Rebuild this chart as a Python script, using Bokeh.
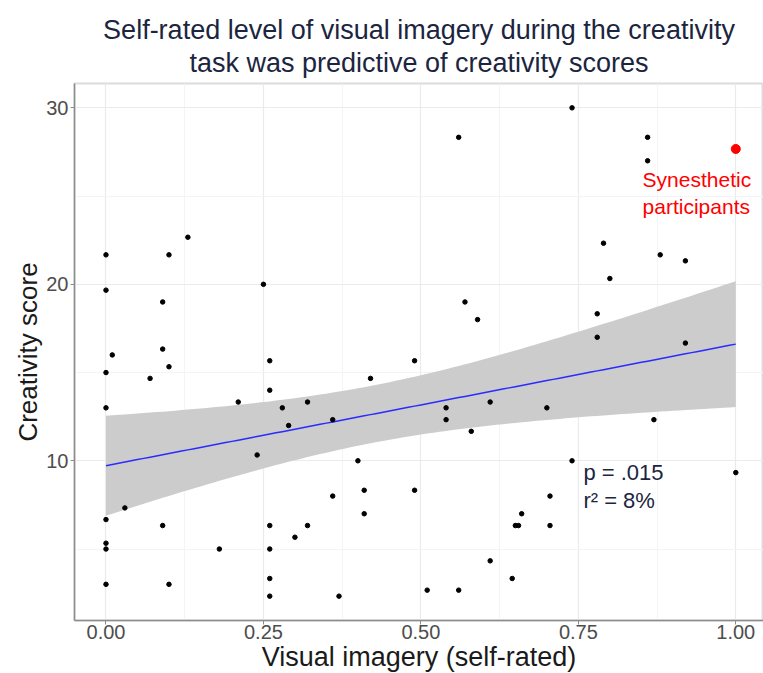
import numpy as np
from bokeh.plotting import figure
from bokeh.models import FixedTicker, Label, Range1d, ColumnDataSource, Title, LinearAxis
from bokeh.embed import file_html
from bokeh.resources import INLINE

# ---- data ----
imagery = [0.00, 0.00, 0.01, 0.00, 0.00, 0.00, 0.00, 0.00, 0.00, 0.03,
           0.07, 0.09, 0.09, 0.09, 0.10, 0.10, 0.10, 0.13, 0.18, 0.21,
           0.24, 0.25, 0.26, 0.26, 0.26, 0.26, 0.26, 0.26, 0.28, 0.29,
           0.30, 0.32, 0.32, 0.36, 0.36, 0.37, 0.40, 0.41, 0.41, 0.42,
           0.49, 0.49, 0.51, 0.54, 0.54, 0.56, 0.56, 0.57, 0.58, 0.59,
           0.61, 0.61, 0.645, 0.65, 0.655, 0.66, 0.70, 0.705, 0.705, 0.74,
           0.74, 0.78, 0.78, 0.79, 0.80, 0.86, 0.86, 0.87, 0.88, 0.92,
           0.92, 1.00]
creativity = [21.67, 19.67, 16.0, 15.0, 13.0, 6.67, 5.33, 5.0, 3.0, 7.33,
              14.67, 19.0, 16.33, 6.33, 21.67, 15.33, 3.0, 22.67, 5.0, 13.33,
              10.33, 20.0, 15.67, 14.0, 6.33, 5.0, 3.33, 2.33, 13.0, 12.0,
              5.67, 13.33, 6.33, 12.33, 8.0, 2.33, 10.0, 8.33, 7.0, 14.67,
              15.67, 8.33, 2.67, 13.0, 12.33, 28.33, 2.67, 19.0, 11.67, 18.0,
              13.33, 4.33, 3.33, 6.33, 6.33, 7.0, 13.0, 8.0, 6.33, 30.0,
              10.0, 17.0, 18.33, 22.33, 20.33, 27.0, 28.33, 12.33, 21.67, 21.33,
              16.67, 9.33]
synesthetic_x = [1.00]
synesthetic_y = [27.67]

x_ticks = [0.0, 0.25, 0.5, 0.75, 1.0]
x_tick_labels = {0.0: "0.00", 0.25: "0.25", 0.5: "0.50", 0.75: "0.75", 1.0: "1.00"}
y_ticks = [10, 20, 30]

title_line1 = "Self-rated level of visual imagery during the creativity"
title_line2 = "task was predictive of creativity scores"

# ---- linear fit with 95% confidence band over all participants ----
xa = np.array(imagery + synesthetic_x, dtype=float)
ya = np.array(creativity + synesthetic_y, dtype=float)
n = len(xa)
xbar = xa.mean()
sxx = ((xa - xbar) ** 2).sum()
slope = ((xa - xbar) * (ya - ya.mean())).sum() / sxx
intercept = ya.mean() - slope * xbar
resid = ya - (intercept + slope * xa)
s = np.sqrt((resid ** 2).sum() / (n - 2))
t_crit = 1.994
xs = np.linspace(0, 1, 101)
fit = intercept + slope * xs
half = t_crit * s * np.sqrt(1.0 / n + (xs - xbar) ** 2 / sxx)
band = ColumnDataSource(dict(x=xs, lower=fit - half, upper=fit + half, fit=fit))

FONT = "Liberation Sans"
NAVY = "#1c2540"

# ---- figure ----
p = figure(width=763, height=673, frame_width=689, frame_height=537,
           x_range=Range1d(-0.05, 1.044), y_range=Range1d(0.95, 31.38),
           output_backend="svg", toolbar_location=None, title=None,
           min_border_left=74, min_border_right=0, min_border_top=83,
           min_border_bottom=53)

bottom_axis = p.below[0]
left_axis = p.left[0]

# second title line: label of a bare axis above the frame
top_axis = LinearAxis(ticker=FixedTicker(ticks=[]), axis_label=title_line2,
                      axis_line_color=None, major_tick_line_color=None,
                      minor_tick_line_color=None, major_tick_out=0, major_tick_in=0,
                      major_label_standoff=0, axis_label_standoff=6,
                      axis_label_text_font=FONT, axis_label_text_font_size="27px",
                      axis_label_text_font_style="normal", axis_label_text_color=NAVY)
p.add_layout(top_axis, "above")
p.add_layout(Title(text=title_line1, align="center", text_font=FONT,
                   text_font_size="27px", text_font_style="normal",
                   text_color=NAVY, offset=12, standoff=0), "above")

p.background_fill_color = "white"
p.border_fill_color = "white"
p.outline_line_color = "#dcdcdc"
p.outline_line_width = 2

bottom_axis.ticker = FixedTicker(ticks=x_ticks, minor_ticks=[0.125, 0.375, 0.625, 0.875])
bottom_axis.major_label_overrides = x_tick_labels
left_axis.ticker = FixedTicker(ticks=y_ticks, minor_ticks=[5, 15, 25])

for ax in (bottom_axis, left_axis):
    ax.axis_line_color = "#8c8c8c"
    ax.axis_line_width = 1.5
    ax.major_tick_line_color = "#8c8c8c"
    ax.major_tick_in = 0
    ax.major_tick_out = 4
    ax.minor_tick_line_color = None
    ax.major_label_text_font = FONT
    ax.major_label_text_font_size = "20px"
    ax.major_label_text_color = "#4d4d4d"
    ax.major_label_standoff = 2
    ax.axis_label_text_font = FONT
    ax.axis_label_text_font_size = "26px"
    ax.axis_label_text_font_style = "normal"
    ax.axis_label_text_color = "#1a1a1a"
    ax.axis_label_standoff = 0

left_axis.axis_label = "Creativity score"
bottom_axis.axis_label = "Visual imagery (self-rated)"
bottom_axis.axis_label_text_font_size = "27px"
bottom_axis.major_label_standoff = 0
bottom_axis.axis_label_standoff = 0

p.xgrid.grid_line_color = "#ebebeb"
p.ygrid.grid_line_color = "#ebebeb"
p.xgrid.minor_grid_line_color = "#f4f4f4"
p.ygrid.minor_grid_line_color = "#f4f4f4"
p.xgrid.grid_line_width = 1.2
p.ygrid.grid_line_width = 1.2

p.varea(x="x", y1="lower", y2="upper", source=band, fill_color="#cccccc")
p.line(x="x", y="fit", source=band, line_color="#2b2bff", line_width=1.5)

p.scatter(imagery, creativity, size=4.5, color="black")
p.scatter(synesthetic_x, synesthetic_y, size=9, color="#ff0000")

p.add_layout(Label(x=0.852, y=25.94, text="Synesthetic", text_color="#ff0000",
                   text_font=FONT, text_font_size="21px",
                   text_baseline="middle", text_align="left"))
p.add_layout(Label(x=0.852, y=24.41, text="participants", text_color="#ff0000",
                   text_font=FONT, text_font_size="21px",
                   text_baseline="middle", text_align="left"))
p.add_layout(Label(x=0.758, y=9.34, text="p = .015", text_color=NAVY,
                   text_font=FONT, text_font_size="22px",
                   text_baseline="middle", text_align="left"))
p.add_layout(Label(x=0.758, y=7.75, text="r\u00b2 = 8%", text_color=NAVY,
                   text_font=FONT, text_font_size="22px",
                   text_baseline="middle", text_align="left"))

open("out.html", "w").write(file_html(p, INLINE))
